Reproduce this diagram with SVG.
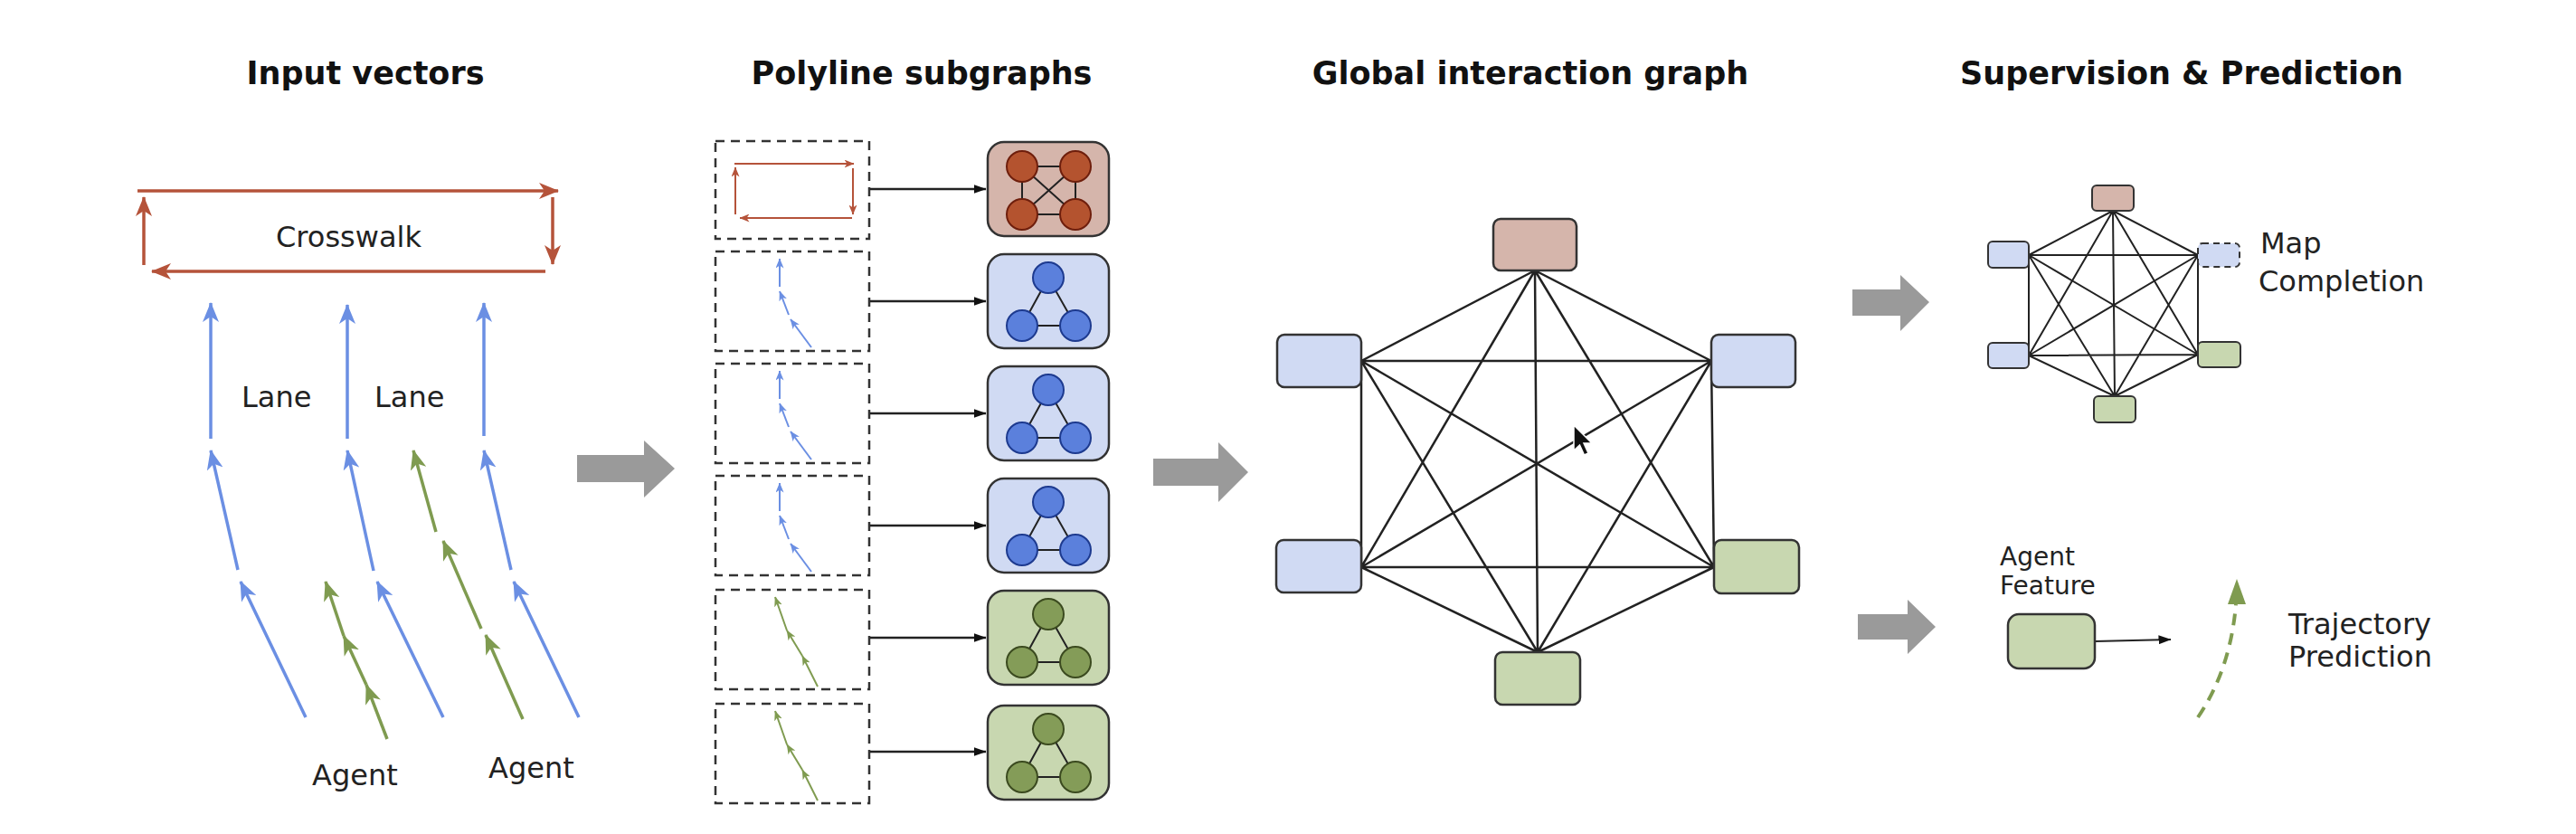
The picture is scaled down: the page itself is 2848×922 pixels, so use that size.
<svg xmlns="http://www.w3.org/2000/svg" width="2848" height="922" viewBox="0 0 2848 922">
<style>
.title{font-family:"DejaVu Sans","Liberation Sans",sans-serif;font-weight:bold;font-size:35px;fill:#111;text-anchor:middle}
.lbl{font-family:"DejaVu Sans","Liberation Sans",sans-serif;font-size:32px;fill:#222}
.lbl2{font-family:"DejaVu Sans","Liberation Sans",sans-serif;font-size:28px;fill:#222}
.red{stroke:#b5533a;stroke-width:3.5;fill:none}
.blue{stroke:#6b8fe3;stroke-width:3.5;fill:none}
.green{stroke:#7f9b50;stroke-width:3.5;fill:none}
.mred{stroke:#b5533a;stroke-width:2;fill:none}
.mblue{stroke:#6b8fe3;stroke-width:2;fill:none}
.mgreen{stroke:#7f9b50;stroke-width:2;fill:none}
.dash{fill:#fff;stroke:#333;stroke-width:2.5;stroke-dasharray:10 7}
.conn{stroke:#222;stroke-width:2.5;fill:none}
.edge{stroke:#222;stroke-width:2.5;fill:none}
.sedge{stroke:#222;stroke-width:2;fill:none}
.nb{fill:#d0daf3;stroke:#333;stroke-width:2.5}
.nr{fill:#d5b5ab;stroke:#333;stroke-width:2.5}
.ng{fill:#c8d7b0;stroke:#333;stroke-width:2.5}
.cr{fill:#b4532f;stroke:#6e1e0c;stroke-width:2}
.cb{fill:#5b80dc;stroke:#1d3a8f;stroke-width:2}
.cg{fill:#849c58;stroke:#3b4a1f;stroke-width:2}
.in{stroke:#222;stroke-width:2;fill:none}
.gray{fill:#9a9a9a}
</style>
<defs>
<marker id="ah-red" markerUnits="userSpaceOnUse" markerWidth="22" markerHeight="18" viewBox="0 0 22 18" refX="21" refY="9" orient="auto"><path d="M0,0 L22,9 L0,18 L6,9 z" fill="#b5533a"/></marker>
<marker id="ah-blue" markerUnits="userSpaceOnUse" markerWidth="22" markerHeight="18" viewBox="0 0 22 18" refX="21" refY="9" orient="auto"><path d="M0,0 L22,9 L0,18 L6,9 z" fill="#6b8fe3"/></marker>
<marker id="ah-green" markerUnits="userSpaceOnUse" markerWidth="22" markerHeight="18" viewBox="0 0 22 18" refX="21" refY="9" orient="auto"><path d="M0,0 L22,9 L0,18 L6,9 z" fill="#7f9b50"/></marker>
<marker id="mh-red" markerUnits="userSpaceOnUse" markerWidth="11" markerHeight="9" viewBox="0 0 11 9" refX="10.5" refY="4.5" orient="auto"><path d="M0,0 L11,4.5 L0,9 L3,4.5 z" fill="#b5533a"/></marker>
<marker id="mh-blue" markerUnits="userSpaceOnUse" markerWidth="11" markerHeight="9" viewBox="0 0 11 9" refX="10.5" refY="4.5" orient="auto"><path d="M0,0 L11,4.5 L0,9 L3,4.5 z" fill="#6b8fe3"/></marker>
<marker id="mh-green" markerUnits="userSpaceOnUse" markerWidth="11" markerHeight="9" viewBox="0 0 11 9" refX="10.5" refY="4.5" orient="auto"><path d="M0,0 L11,4.5 L0,9 L3,4.5 z" fill="#7f9b50"/></marker>
<marker id="ah-black" markerUnits="userSpaceOnUse" markerWidth="14" markerHeight="10" viewBox="0 0 14 10" refX="13.5" refY="5" orient="auto"><path d="M0,0 L14,5 L0,10 z" fill="#111"/></marker>
<marker id="ah-dgreen" markerUnits="userSpaceOnUse" markerWidth="20" markerHeight="26" viewBox="0 0 20 26" refX="10" refY="1" orient="auto-start-reverse"><path d="M0,26 L10,0 L20,26 z" fill="#7f9b50"/></marker>
</defs>

<rect width="2848" height="922" fill="#fff"/>

<g id="titles">
<text class="title" x="404" y="93">Input vectors</text>
<text class="title" x="1019" y="93">Polyline subgraphs</text>
<text class="title" x="1692" y="93">Global interaction graph</text>
<text class="title" x="2412" y="93">Supervision &amp; Prediction</text>
</g>

<!-- Input vectors -->
<g id="crosswalk">
<line class="red" x1="152" y1="211" x2="617" y2="211" marker-end="url(#ah-red)"/>
<line class="red" x1="611" y1="218" x2="611" y2="292" marker-end="url(#ah-red)"/>
<line class="red" x1="603" y1="300" x2="168" y2="300" marker-end="url(#ah-red)"/>
<line class="red" x1="159" y1="293" x2="159" y2="218" marker-end="url(#ah-red)"/>
<text class="lbl" x="305" y="273">Crosswalk</text>
</g>
<g id="lane1">
<line class="blue" x1="233" y1="485" x2="233" y2="335" marker-end="url(#ah-blue)"/>
<line class="blue" x1="263" y1="630" x2="233" y2="498" marker-end="url(#ah-blue)"/>
<line class="blue" x1="338" y1="793" x2="266" y2="643" marker-end="url(#ah-blue)"/>
<text class="lbl" x="267" y="450">Lane</text>
</g>
<g id="lane2">
<line class="blue" x1="384" y1="485" x2="384" y2="337" marker-end="url(#ah-blue)"/>
<line class="blue" x1="413" y1="631" x2="384" y2="498" marker-end="url(#ah-blue)"/>
<line class="blue" x1="490" y1="793" x2="417" y2="643" marker-end="url(#ah-blue)"/>
<text class="lbl" x="414" y="450">Lane</text>
</g>
<g id="lane3">
<line class="blue" x1="535" y1="482" x2="535" y2="335" marker-end="url(#ah-blue)"/>
<line class="blue" x1="565" y1="630" x2="535" y2="498" marker-end="url(#ah-blue)"/>
<line class="blue" x1="640" y1="793" x2="568" y2="643" marker-end="url(#ah-blue)"/>
</g>
<g id="agent1">
<line class="green" x1="428" y1="817" x2="405" y2="757" marker-end="url(#ah-green)"/>
<line class="green" x1="405" y1="757" x2="380" y2="703" marker-end="url(#ah-green)"/>
<line class="green" x1="380" y1="703" x2="360" y2="643" marker-end="url(#ah-green)"/>
<text class="lbl" x="345" y="868">Agent</text>
</g>
<g id="agent2">
<line class="green" x1="578" y1="795" x2="537" y2="702" marker-end="url(#ah-green)"/>
<line class="green" x1="532" y1="695" x2="490" y2="598" marker-end="url(#ah-green)"/>
<line class="green" x1="482" y1="588" x2="457" y2="498" marker-end="url(#ah-green)"/>
<text class="lbl" x="540" y="860">Agent</text>
</g>

<!-- big gray arrows -->
<g id="flow-arrows">
<polygon class="gray" points="638,503 712,503 712,487 746,518 712,550 712,533 638,533"/>
<polygon class="gray" points="1275,507 1347,507 1347,489 1380,522 1347,555 1347,537 1275,537"/>
<polygon class="gray" points="2048,320 2101,320 2101,304 2133,334 2101,366 2101,349 2048,349"/>
<polygon class="gray" points="2054,679 2109,679 2109,663 2140,693 2109,723 2109,707 2054,707"/>
</g>

<!-- Polyline subgraph inputs -->
<g id="poly1">
<rect class="dash" x="791" y="156" width="170" height="108"/>
<line class="mred" x1="812" y1="181" x2="944" y2="181" marker-end="url(#mh-red)"/>
<line class="mred" x1="943" y1="186" x2="943" y2="237" marker-end="url(#mh-red)"/>
<line class="mred" x1="942" y1="241" x2="818" y2="241" marker-end="url(#mh-red)"/>
<line class="mred" x1="813" y1="237" x2="813" y2="185" marker-end="url(#mh-red)"/>
</g>
<g id="poly2">
<rect class="dash" x="791" y="278" width="170" height="110"/>
<line class="mblue" x1="862" y1="317" x2="862" y2="286" marker-end="url(#mh-blue)"/>
<line class="mblue" x1="872" y1="348" x2="862" y2="322" marker-end="url(#mh-blue)"/>
<line class="mblue" x1="897" y1="384" x2="874" y2="353" marker-end="url(#mh-blue)"/>
</g>
<g id="poly3">
<rect class="dash" x="791" y="402" width="170" height="110"/>
<line class="mblue" x1="862" y1="441" x2="862" y2="410" marker-end="url(#mh-blue)"/>
<line class="mblue" x1="872" y1="472" x2="862" y2="446" marker-end="url(#mh-blue)"/>
<line class="mblue" x1="897" y1="508" x2="874" y2="477" marker-end="url(#mh-blue)"/>
</g>
<g id="poly4">
<rect class="dash" x="791" y="526" width="170" height="110"/>
<line class="mblue" x1="862" y1="565" x2="862" y2="534" marker-end="url(#mh-blue)"/>
<line class="mblue" x1="872" y1="596" x2="862" y2="570" marker-end="url(#mh-blue)"/>
<line class="mblue" x1="897" y1="632" x2="874" y2="601" marker-end="url(#mh-blue)"/>
</g>
<g id="poly5">
<rect class="dash" x="791" y="652" width="170" height="110"/>
<line class="mgreen" x1="904" y1="759" x2="887" y2="725" marker-end="url(#mh-green)"/>
<line class="mgreen" x1="887" y1="725" x2="870" y2="697" marker-end="url(#mh-green)"/>
<line class="mgreen" x1="870" y1="697" x2="857" y2="660" marker-end="url(#mh-green)"/>
</g>
<g id="poly6">
<rect class="dash" x="791" y="778" width="170" height="110"/>
<line class="mgreen" x1="904" y1="885" x2="887" y2="851" marker-end="url(#mh-green)"/>
<line class="mgreen" x1="887" y1="851" x2="870" y2="823" marker-end="url(#mh-green)"/>
<line class="mgreen" x1="870" y1="823" x2="857" y2="786" marker-end="url(#mh-green)"/>
</g>

<!-- Subgraph nodes -->
<g id="sub1">
<rect class="nr" x="1092" y="157" width="134" height="104" rx="18"/>
<path class="in" d="M1130,184 H1189 M1130,237 H1189 M1130,184 V237 M1189,184 V237 M1130,184 L1189,237 M1189,184 L1130,237"/>
<circle class="cr" cx="1130" cy="184" r="17"/><circle class="cr" cx="1189" cy="184" r="17"/>
<circle class="cr" cx="1130" cy="237" r="17"/><circle class="cr" cx="1189" cy="237" r="17"/>
</g>
<g id="sub2">
<rect class="nb" x="1092" y="281" width="134" height="104" rx="18"/>
<path class="in" d="M1159,307 L1130,360 H1189 Z"/>
<circle class="cb" cx="1159" cy="307" r="17"/><circle class="cb" cx="1130" cy="360" r="17"/><circle class="cb" cx="1189" cy="360" r="17"/>
</g>
<g id="sub3">
<rect class="nb" x="1092" y="405" width="134" height="104" rx="18"/>
<path class="in" d="M1159,431 L1130,484 H1189 Z"/>
<circle class="cb" cx="1159" cy="431" r="17"/><circle class="cb" cx="1130" cy="484" r="17"/><circle class="cb" cx="1189" cy="484" r="17"/>
</g>
<g id="sub4">
<rect class="nb" x="1092" y="529" width="134" height="104" rx="18"/>
<path class="in" d="M1159,555 L1130,608 H1189 Z"/>
<circle class="cb" cx="1159" cy="555" r="17"/><circle class="cb" cx="1130" cy="608" r="17"/><circle class="cb" cx="1189" cy="608" r="17"/>
</g>
<g id="sub5">
<rect class="ng" x="1092" y="653" width="134" height="104" rx="18"/>
<path class="in" d="M1159,679 L1130,732 H1189 Z"/>
<circle class="cg" cx="1159" cy="679" r="17"/><circle class="cg" cx="1130" cy="732" r="17"/><circle class="cg" cx="1189" cy="732" r="17"/>
</g>
<g id="sub6">
<rect class="ng" x="1092" y="780" width="134" height="104" rx="18"/>
<path class="in" d="M1159,806 L1130,859 H1189 Z"/>
<circle class="cg" cx="1159" cy="806" r="17"/><circle class="cg" cx="1130" cy="859" r="17"/><circle class="cg" cx="1189" cy="859" r="17"/>
</g>

<!-- Global graph and other connectors -->
<g id="connectors">
<line class="conn" x1="962" y1="209" x2="1090" y2="209" marker-end="url(#ah-black)"/>
<line class="conn" x1="962" y1="333" x2="1090" y2="333" marker-end="url(#ah-black)"/>
<line class="conn" x1="962" y1="457" x2="1090" y2="457" marker-end="url(#ah-black)"/>
<line class="conn" x1="962" y1="581" x2="1090" y2="581" marker-end="url(#ah-black)"/>
<line class="conn" x1="962" y1="705" x2="1090" y2="705" marker-end="url(#ah-black)"/>
<line class="conn" x1="962" y1="831" x2="1090" y2="831" marker-end="url(#ah-black)"/>

<path class="edge" d="M1697,299 L1505,399 M1697,299 L1892,399 M1697,299 L1505,627 M1697,299 L1895,627 M1697,299 L1700,721
M1505,399 L1892,399 M1505,399 L1505,627 M1505,399 L1895,627 M1505,399 L1700,721
M1892,399 L1505,627 M1892,399 L1895,627 M1892,399 L1700,721
M1505,627 L1895,627 M1505,627 L1700,721
M1895,627 L1700,721"/>

<path class="sedge" d="M2336,233 L2243,282 M2336,233 L2430,282 M2336,233 L2243,393 M2336,233 L2430,392 M2336,233 L2338,438
M2243,282 L2430,282 M2243,282 L2243,393 M2243,282 L2430,392 M2243,282 L2338,438
M2430,282 L2243,393 M2430,282 L2430,392 M2430,282 L2338,438
M2243,393 L2430,392 M2243,393 L2338,438
M2430,392 L2338,438"/>

<line class="sedge" x1="2316" y1="709" x2="2400" y2="707" marker-end="url(#ah-black)"/>
<path d="M2430,793 Q2466,740 2472,668" fill="none" stroke="#7f9b50" stroke-width="4" stroke-dasharray="13 9"/>
<path d="M2463,668 L2473,640 L2483,668 Z" fill="#7f9b50"/>
</g>

<g id="g-top"><rect class="nr" x="1651" y="242" width="92" height="57" rx="8"/></g>
<g id="g-lt"><rect class="nb" x="1412" y="370" width="93" height="58" rx="8"/></g>
<g id="g-rt"><rect class="nb" x="1892" y="370" width="93" height="58" rx="8"/></g>
<g id="g-lb"><rect class="nb" x="1411" y="597" width="94" height="58" rx="8"/></g>
<g id="g-rb"><rect class="ng" x="1895" y="597" width="94" height="59" rx="8"/></g>
<g id="g-bot"><rect class="ng" x="1653" y="721" width="94" height="58" rx="8"/></g>

<g id="cursor"><path d="M1740,470 L1740,498 L1746.5,492 L1751.5,503 L1756,501 L1751,490 L1760,490 Z" fill="#111" stroke="#fff" stroke-width="1.5"/></g>

<g id="s-top"><rect class="nr" x="2313" y="205" width="46" height="28" rx="5" style="stroke-width:2"/></g>
<g id="s-lt"><rect class="nb" x="2198" y="267" width="45" height="29" rx="5" style="stroke-width:2"/></g>
<g id="s-lb"><rect class="nb" x="2198" y="379" width="45" height="28" rx="5" style="stroke-width:2"/></g>
<g id="s-rt"><rect x="2430" y="269" width="46" height="26" rx="5" fill="#d0daf3" stroke="#333" stroke-width="2" stroke-dasharray="7 5"/></g>
<g id="s-rb"><rect class="ng" x="2430" y="378" width="47" height="28" rx="5" style="stroke-width:2"/></g>
<g id="s-bot"><rect class="ng" x="2315" y="438" width="46" height="29" rx="5" style="stroke-width:2"/></g>

<g id="map-completion">
<text class="lbl" x="2499" y="280">Map</text>
<text class="lbl" x="2497" y="322">Completion</text>
</g>

<g id="agent-feature">
<text class="lbl2" x="2211" y="625">Agent</text>
<text class="lbl2" x="2211" y="657">Feature</text>
<rect class="ng" x="2220" y="679" width="96" height="60" rx="12"/>
</g>

<g id="trajectory">
<text class="lbl" x="2530" y="701">Trajectory</text>
<text class="lbl" x="2530" y="737">Prediction</text>
</g>
</svg>
